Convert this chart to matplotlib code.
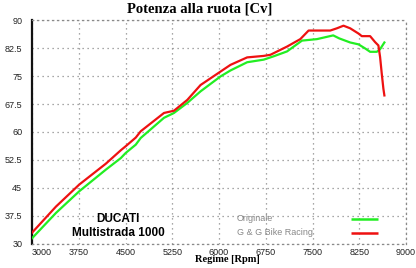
import matplotlib.pyplot as plt

# curva originale (verde)
rpm_orig = [3000, 3384, 3757, 4184, 4424, 4504, 4664, 4744, 5117, 5277, 5491,
            5704, 6024, 6184, 6451, 6717, 6877, 7091, 7331, 7571, 7832, 7928,
            8104, 8237, 8344, 8424, 8531, 8584, 8653]
cv_orig = [31.5, 38.3, 44.1, 49.9, 53.0, 54.4, 56.6, 58.4, 63.8, 65.1, 67.8,
           70.9, 74.9, 76.5, 78.7, 79.4, 80.3, 81.6, 84.5, 84.9, 85.9, 85.1,
           84.0, 83.5, 82.4, 81.5, 81.5, 82.2, 84.0]

# curva G & G (rossa)
rpm_gg = [3000, 3384, 3757, 4184, 4424, 4504, 4664, 4744, 5117, 5277, 5491,
          5704, 6024, 6184, 6451, 6717, 6824, 7091, 7304, 7437, 7571, 7784,
          7891, 7997, 8104, 8237, 8291, 8424, 8504, 8557, 8584, 8611, 8637, 8653]
cv_gg = [33.0, 40.0, 45.9, 51.5, 55.1, 56.2, 58.5, 60.2, 65.1, 65.7, 68.6,
         72.6, 76.2, 78.0, 80.0, 80.4, 80.7, 82.9, 84.9, 87.2, 87.2, 87.2,
         87.8, 88.5, 87.8, 86.4, 85.7, 85.7, 84.1, 83.2, 80.1, 75.6, 71.6, 69.8]

x_ticks = [3000, 3750, 4500, 5250, 6000, 6750, 7500, 8250, 9000]
y_ticks = [30, 37.5, 45, 52.5, 60, 67.5, 75, 82.5, 90]
y_labels = ['30', '37.5', '45', '52.5', '60', '67.5', '75', '82.5', '90']

GREEN = '#22ee22'
RED = '#ee1111'
GRID = '#8a8a8a'

fig = plt.figure(figsize=(4.16, 2.68), dpi=100)
fig.patch.set_facecolor('white')
ax = fig.add_axes([0.077, 0.09, 0.899, 0.835])

ax.plot(rpm_orig, cv_orig, color=GREEN, lw=1.6, zorder=4)
ax.plot(rpm_gg, cv_gg, color=RED, lw=1.6, zorder=5)

ax.set_xlim(3000, 9000)
ax.set_ylim(30, 90)
ax.set_xticks(x_ticks)
ax.set_yticks(y_ticks)
ax.set_xticklabels([str(v) for v in x_ticks], fontsize=6.5,
                   family='Liberation Sans', color='#222222')
ax.set_yticklabels(y_labels, fontsize=6.5, family='Liberation Sans',
                   color='#222222')
ax.get_xticklabels()[0].set_horizontalalignment('left')
ax.tick_params(axis='x', length=0, pad=3)
ax.tick_params(axis='y', length=0, pad=7)

ax.grid(True, color=GRID, linestyle=(0, (1, 3)), lw=0.9)
for s in ['top', 'right', 'bottom']:
    ax.spines[s].set_color(GRID)
    ax.spines[s].set_linestyle((0, (1, 3)))
    ax.spines[s].set_linewidth(0.9)
ax.spines['left'].set_color('#111111')
ax.spines['left'].set_linewidth(1.6)

fig.text(0.479, 0.968, 'Potenza alla ruota [Cv]', ha='center', va='center',
         family='Liberation Serif', fontweight='bold', fontsize=10.5)
fig.text(0.547, 0.03, 'Regime [Rpm]', ha='center', va='center',
         family='Liberation Serif', fontweight='bold', fontsize=7.5)

# scritte interne
ax.text(0.23, 0.113, 'DUCATI', transform=ax.transAxes, ha='center',
        va='center', family='Liberation Sans', fontweight='bold', fontsize=8.5)
ax.text(0.23, 0.05, 'Multistrada 1000', transform=ax.transAxes, ha='center',
        va='center', family='Liberation Sans', fontweight='bold', fontsize=8.5)

# legenda
ax.text(0.548, 0.113, 'Originale', transform=ax.transAxes, ha='left',
        va='center', family='Liberation Sans', fontsize=6.5, color='#888888')
ax.text(0.548, 0.05, 'G & G Bike Racing', transform=ax.transAxes, ha='left',
        va='center', family='Liberation Sans', fontsize=6.5, color='#888888')
ax.plot([0.853, 0.925], [0.113, 0.113], transform=ax.transAxes,
        color=GREEN, lw=1.8, solid_capstyle='butt')
ax.plot([0.853, 0.925], [0.05, 0.05], transform=ax.transAxes,
        color=RED, lw=1.8, solid_capstyle='butt')

fig.savefig('out.png', dpi=100, facecolor='white')
